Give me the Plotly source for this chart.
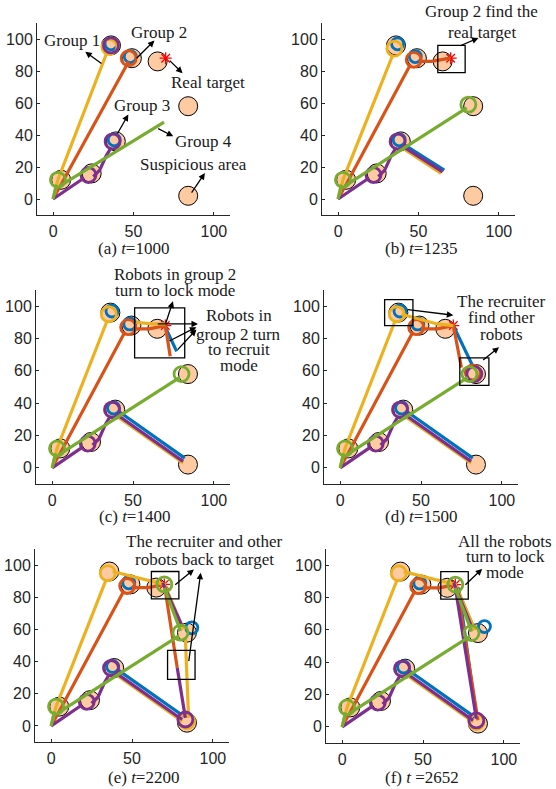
import plotly.graph_objects as go

W, H = 556, 789
X_RANGE = [-10, 110]
Y_RANGE = [-10, 110]
X_TICKS = [0, 50, 100]
Y_TICKS = [0, 20, 40, 60, 80, 100]

# suspicious areas and the real target
area_x = [5, 24, 39, 36, 49, 65, 84, 84]
area_y = [12, 16, 36, 96, 88, 86, 58, 2]
target_x = [70]
target_y = [88]

captions = ["(a) <i>t</i>=1000", "(b) <i>t</i>=1235", "(c) <i>t</i>=1400",
            "(d) <i>t</i>=1500", "(e) <i>t</i>=2200", "(f) <i>t</i> =2652"]

# ---------------- trajectories (None separates pieces) ----------------
# (a) t=1000
a_blue_x = [None]; a_blue_y = [None]
a_orange_x = [0, 6, 47]; a_orange_y = [0, 11, 86]
a_yellow_x = [0, 3, 34]; a_yellow_y = [0, 12, 93]
a_purple_x = [0, 19, None, 25, 29, 33, 36]; a_purple_y = [0, 13, None, 14, 18, 27, 32]
a_green_x = [0, 2, None, 4, 69]; a_green_y = [0, 9, None, 8, 48]
a_ring_blue_x = [38, 48, 36]; a_ring_blue_y = [37, 89, 97]
a_ring_orange_x = [47]; a_ring_orange_y = [88]
a_ring_yellow_x = [35]; a_ring_yellow_y = [95]
a_ring_purple_x = [22, 37, 36]; a_ring_purple_y = [15, 36, 96]
a_ring_green_x = [3]; a_ring_green_y = [12]

# (b) t=1235
b_blue_x = [41, 66]; b_blue_y = [34, 18]
b_orange_x = [0, 6, 45, None, 50, 58, 70]; b_orange_y = [0, 11, 84, None, 86, 86, 88]
b_yellow_x = [0, 3, 34, None, 40, 64]; b_yellow_y = [0, 12, 90, None, 32, 16]
b_purple_x = [0, 19, None, 25, 29, 33, 36, None, 40, 65]
b_purple_y = [0, 13, None, 14, 18, 27, 32, None, 33, 17]
b_green_x = [0, 2, None, 4, 80]; b_green_y = [0, 9, None, 8, 57]
b_ring_blue_x = [38, 48, 37]; b_ring_blue_y = [37, 89, 97]
b_ring_orange_x = [47]; b_ring_orange_y = [87]
b_ring_yellow_x = [35]; b_ring_yellow_y = [94]
b_ring_purple_x = [22, 37]; b_ring_purple_y = [15, 36]
b_ring_green_x = [3, 81]; b_ring_green_y = [12, 59]

# (c) t=1400
c_blue_x = [70, 77, None, 41, 82]; c_blue_y = [87, 72, None, 35, 6]
c_orange_x = [0, 6, 45, None, 50, 60, 70, 73]; c_orange_y = [0, 11, 84, None, 86, 86, 88, 69]
c_yellow_x = [0, 3, 34, None, 52, 62, 70, None, 40, 81]
c_yellow_y = [0, 12, 91, None, 90, 89, 89, None, 32, 3]
c_purple_x = [0, 19, None, 25, 29, 33, 36, None, 40, 81]
c_purple_y = [0, 13, None, 14, 18, 27, 32, None, 33, 4]
c_green_x = [0, 2, None, 4, 79]; c_green_y = [0, 9, None, 8, 56]
c_ring_blue_x = [38, 48, 37]; c_ring_blue_y = [37, 89, 97]
c_ring_orange_x = [47]; c_ring_orange_y = [87]
c_ring_yellow_x = [35]; c_ring_yellow_y = [95]
c_ring_purple_x = [22, 37]; c_ring_purple_y = [15, 36]
c_ring_green_x = [3, 80]; c_ring_green_y = [12, 58]

# (d) t=1500
d_blue_x = [70, 82, None, 41, 82]; d_blue_y = [88, 63, None, 35, 6]
d_orange_x = [0, 6, 45, None, 50, 60, 70, 75]; d_orange_y = [0, 11, 84, None, 86, 86, 88, 62]
d_yellow_x = [0, 3, 34, None, 38, 60, 70, None, 40, 81]
d_yellow_y = [0, 12, 91, None, 95, 89, 88, None, 32, 3]
d_purple_x = [0, 19, None, 25, 29, 33, 36, None, 40, 81]
d_purple_y = [0, 13, None, 14, 18, 27, 32, None, 33, 4]
d_green_x = [0, 2, None, 4, 79]; d_green_y = [0, 9, None, 8, 56]
d_ring_blue_x = [38, 48, 37]; d_ring_blue_y = [37, 89, 97]
d_ring_orange_x = [47, 82]; d_ring_orange_y = [87, 59]
d_ring_yellow_x = [35]; d_ring_yellow_y = [95]
d_ring_purple_x = [22, 37, 83]; d_ring_purple_y = [15, 36, 58]
d_ring_green_x = [3, 80]; d_ring_green_y = [12, 58]

# (e) t=2200
e_blue_x = [41, 82]; e_blue_y = [35, 6]
e_orange_x = [0, 6, 45, None, 50, 60, 70, 78]; e_orange_y = [0, 11, 84, None, 86, 86, 88, 36]
e_yellow_x = [0, 3, 34, None, 38, 70, 82, None, 83, 85, None, 40, 81]
e_yellow_y = [0, 12, 91, None, 96, 88, 60, None, 55, 5, None, 32, 3]
e_purple_x = [0, 19, None, 25, 29, 33, 36, None, 40, 81, None, 83, 78, None, 69, 81]
e_purple_y = [0, 13, None, 14, 18, 27, 32, None, 33, 4, None, 5, 36, None, 89, 62]
e_green_x = [0, 2, None, 4, 79, None, 80, 70]; e_green_y = [0, 9, None, 8, 56, None, 59, 86]
e_ring_blue_x = [38, 48, 87]; e_ring_blue_y = [37, 89, 61]
e_ring_orange_x = [47]; e_ring_orange_y = [87]
e_ring_yellow_x = [35, 84]; e_ring_yellow_y = [95, 3]
e_ring_purple_x = [22, 37, 83]; e_ring_purple_y = [15, 36, 4]
e_ring_green_x = [3, 80, 70]; e_ring_green_y = [12, 58, 88]

# (f) t=2652
f_blue_x = [41, 82, None, 83, 72]; f_blue_y = [35, 6, None, 6, 86]
f_orange_x = [0, 6, 45, None, 50, 60, 70, 82, None, 71, 84]
f_orange_y = [0, 11, 84, None, 86, 86, 88, 60, None, 86, 4]
f_yellow_x = [0, 3, 34, None, 38, 70, 82, None, 40, 81]
f_yellow_y = [0, 12, 91, None, 96, 88, 60, None, 32, 3]
f_purple_x = [0, 19, None, 25, 29, 33, 36, None, 40, 81, None, 83, 70, None, 69, 80]
f_purple_y = [0, 13, None, 14, 18, 27, 32, None, 33, 4, None, 5, 86, None, 89, 62]
f_green_x = [0, 2, None, 4, 79, None, 80, 70]; f_green_y = [0, 9, None, 8, 56, None, 59, 86]
f_ring_blue_x = [38, 48, 88]; f_ring_blue_y = [37, 89, 62]
f_ring_orange_x = [47]; f_ring_orange_y = [87]
f_ring_yellow_x = [35, 83]; f_ring_yellow_y = [95, 3]
f_ring_purple_x = [22, 37, 83]; f_ring_purple_y = [15, 36, 4]
f_ring_green_x = [3, 80, 70]; f_ring_green_y = [12, 58, 88]

# ---------------- annotations ----------------
a_text = ["Group 1", "Group 2", "Real target", "Group 3", "Group 4", "Suspicious area"]
a_text_x = [12, 66, 96.5, 55, 93.5, 87]
a_text_y = [99, 104, 73, 58.5, 36, 21.4]
a_arrows = [(31, 84, 20, 92), (51, 87, 63, 99), (71.6, 87.4, 80.5, 78.6),
            (39.5, 40, 46.8, 52.8), (64.4, 44.5, 74.7, 39.2), (85.5, 3, 94.4, 16.2)]
a_boxes = []

b_text = ["Group 2 find the", "real target"]
b_text_x = [89.2, 89.2]
b_text_y = [117, 104]
b_arrows = [(75, 95.4, 87.3, 100.6)]
b_boxes = [(62, 79, 79, 96)]

c_text = ["Robots in group 2", "turn to lock mode", "Robots in", "group 2 turn", "to recruit", "mode"]
c_text_x = [75.8, 75.8, 115.5, 115.5, 115.5, 115.5]
c_text_y = [119.6, 109.7, 94.2, 82.5, 73.2, 63.3]
c_arrows = [(70, 88.7, 74.7, 103), (64.4, 89, 90.2, 89), (71.6, 78, 89.2, 87), (76.8, 72.2, 89.2, 85.6)]
c_boxes = [(51, 82, 68, 99)]

d_text = ["The recruiter", "find other", "robots"]
d_text_x = [99.7, 99.7, 99.7]
d_text_y = [103.1, 92.8, 82.5]
d_arrows = [(41, 98, 70, 94.4), (87.5, 66, 98.3, 74.6)]
d_boxes = [(27.5, 45, 88, 104), (74, 92, 51, 68)]

e_text = ["The recruiter and other", "robots back to target"]
e_text_x = [95, 95]
e_text_y = [114.9, 103.5]
e_arrows = [(75.8, 87, 88.3, 97.3), (85, 39.4, 92.5, 95.3)]
e_boxes = [(62, 79, 79, 96), (72, 89, 29, 47)]

f_text = ["All the robots", "turn to lock", "mode"]
f_text_x = [101, 101, 101]
f_text_y = [114.8, 105.5, 95.2]
f_arrows = [(75.3, 87, 86.6, 97.7)]
f_boxes = [(61, 78, 79, 96)]

# ---------------- layout geometry (pixels) ----------------
panel_px = [(37, 230, 23, 215), (322, 515, 23, 215),
            (36, 230, 290, 484), (324, 518, 290, 484),
            (35, 229, 549, 742), (326, 520, 549, 743)]
caption_px = [(133, 248), (421, 248), (134, 516), (421, 516), (143, 777), (422, 777)]

COLORS = {"blue": "#0072BD", "orange": "#D95319", "yellow": "#EDB120",
          "purple": "#7E2F8E", "green": "#77AC30"}
ORDER = ["blue", "orange", "yellow", "purple", "green"]
RING_SIZE = {"blue": 12, "orange": 15, "yellow": 15, "purple": 15, "green": 15}

g = globals()
panels = []
for p in "abcdef":
    panels.append(dict(
        lines={c: (g[f"{p}_{c}_x"], g[f"{p}_{c}_y"]) for c in ORDER},
        rings={c: (g[f"{p}_ring_{c}_x"], g[f"{p}_ring_{c}_y"]) for c in ORDER},
        text=(g[f"{p}_text"], g[f"{p}_text_x"], g[f"{p}_text_y"]),
        arrows=g[f"{p}_arrows"], boxes=g[f"{p}_boxes"]))


def to_paper(i, x, y):
    L, R, T, B = panel_px[i]
    px = L + (x - X_RANGE[0]) / (X_RANGE[1] - X_RANGE[0]) * (R - L)
    py = B - (y - Y_RANGE[0]) / (Y_RANGE[1] - Y_RANGE[0]) * (B - T)
    return px / W, 1 - py / H


fig = go.Figure()
layout = dict(width=W, height=H, autosize=False, margin=dict(l=0, r=0, t=0, b=0, pad=0),
              paper_bgcolor="white", plot_bgcolor="white", showlegend=False)
annotations = []
shapes = []
SERIF = "Liberation Serif, Times New Roman, serif"
TXT = "#1a1a1a"

for i, pan in enumerate(panels):
    n = i + 1
    xid = "x" if n == 1 else f"x{n}"
    yid = "y" if n == 1 else f"y{n}"
    L, R, T, B = panel_px[i]
    axis_common = dict(showgrid=False, zeroline=False, showline=True, linecolor="#262626",
                       linewidth=1, ticks="inside", ticklen=3, tickcolor="#262626",
                       tickfont=dict(family="Liberation Sans, Arial", size=16, color="#262626"),
                       mirror=False, fixedrange=True)
    layout["xaxis" if n == 1 else f"xaxis{n}"] = dict(
        axis_common, domain=[L / W, R / W], range=X_RANGE, tickvals=X_TICKS,
        anchor=yid, ticklabelstandoff=2)
    layout["yaxis" if n == 1 else f"yaxis{n}"] = dict(
        axis_common, domain=[1 - B / H, 1 - T / H], range=Y_RANGE, tickvals=Y_TICKS,
        anchor=xid, ticklabelstandoff=0)

    # suspicious areas
    fig.add_trace(go.Scatter(x=area_x, y=area_y, mode="markers", xaxis=xid, yaxis=yid,
                             marker=dict(symbol="circle", size=19, color="#FDCAA2",
                                         line=dict(color="black", width=1)),
                             hoverinfo="skip"))
    # real target
    fig.add_trace(go.Scatter(x=target_x, y=target_y, mode="markers", xaxis=xid, yaxis=yid,
                             marker=dict(symbol="asterisk-open", size=10, color="red",
                                         line=dict(width=1.3)),
                             hoverinfo="skip"))
    for c in ORDER:
        lx, ly = pan["lines"][c]
        fig.add_trace(go.Scatter(x=lx, y=ly, mode="lines", xaxis=xid, yaxis=yid,
                                 line=dict(color=COLORS[c], width=3.2), connectgaps=False,
                                 hoverinfo="skip"))
        rx, ry = pan["rings"][c]
        fig.add_trace(go.Scatter(x=rx, y=ry, mode="markers", xaxis=xid, yaxis=yid,
                                 marker=dict(symbol="circle-open", size=RING_SIZE[c],
                                             color=COLORS[c], line=dict(width=2.8)),
                                 hoverinfo="skip"))

    # text
    tl, tx, ty = pan["text"]
    for s, x, y in zip(tl, tx, ty):
        px, py = to_paper(i, x, y)
        annotations.append(dict(text=s, x=px, y=py, xref="paper", yref="paper",
                                xanchor="center", yanchor="middle", showarrow=False,
                                font=dict(family=SERIF, size=17, color=TXT)))
    for (tx0, ty0, hx, hy) in pan["arrows"]:
        annotations.append(dict(text="", x=hx, y=hy, ax=tx0, ay=ty0, xref=xid, yref=yid,
                                axref=xid, ayref=yid, showarrow=True, arrowhead=2,
                                arrowsize=1, arrowwidth=1.3, arrowcolor="black",
                                standoff=0, startstandoff=0))
    for (x0, x1, y0, y1) in pan["boxes"]:
        shapes.append(dict(type="rect", xref=xid, yref=yid, x0=x0, x1=x1, y0=y0, y1=y1,
                           line=dict(color="black", width=1.3), fillcolor="rgba(0,0,0,0)"))
    cx, cy = caption_px[i]
    annotations.append(dict(text=captions[i], x=cx / W, y=1 - cy / H, xref="paper",
                            yref="paper", xanchor="center", yanchor="middle",
                            showarrow=False, font=dict(family=SERIF, size=17, color=TXT)))

layout["annotations"] = annotations
layout["shapes"] = shapes
fig.update_layout(**layout)
fig.write_html("out.html", config={"displayModeBar": False},
               post_script="document.body.style.margin='0';document.body.style.padding='0';")
